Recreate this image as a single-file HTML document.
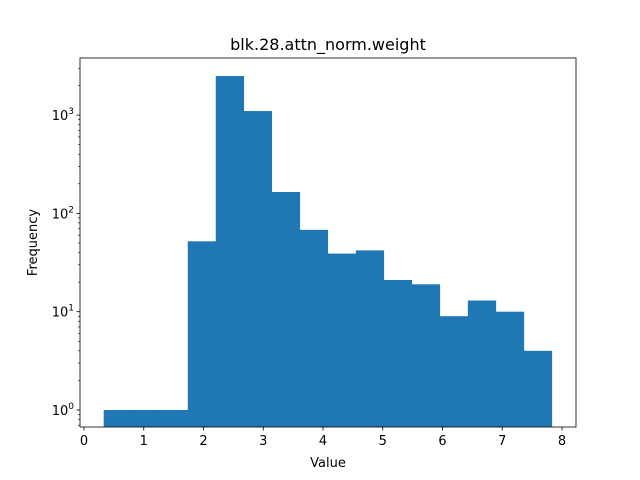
<!DOCTYPE html>
<html><head><meta charset="utf-8"><style>body{margin:0;background:#fff}svg{display:block;font-family:"DejaVu Sans","Liberation Sans",sans-serif}</style></head>
<body>
<svg id="chart" width="640" height="480"></svg>
<script>
const binStart = 0.33;
const binWidth = 0.46875;
const counts = [1,1,1,52,2500,1100,165,68,39,42,21,19,9,13,10,4];
const xTicks = [0,1,2,3,4,5,6,7,8];
const yTickExps = [0,1,2,3];
const titleText = "blk.28.attn_norm.weight";

const L=80,R=576,T=58,B=427;
const x = v => 84 + v*59.75;
const y = v => 410 - Math.log10(v)*98.3;
const svg=document.getElementById('chart');
const NS='http://www.w3.org/2000/svg';
function mk(tag,attrs,parent){const e=document.createElementNS(NS,tag);for(const k in attrs)e.setAttribute(k,attrs[k]);(parent||svg).appendChild(e);return e;}

counts.forEach((c,i)=>{
  const x0=x(binStart+i*binWidth), x1=x(binStart+(i+1)*binWidth);
  const r=mk('rect',{x:x0,y:y(c),width:x1-x0+0.3,height:B-y(c),fill:'#1f77b4'});
  
  
});
const frame=mk('rect',{x:L,y:T,width:R-L,height:B-T,fill:'none',stroke:'#000','stroke-width':0.8});



xTicks.forEach(t=>{
  mk('line',{x1:x(t),x2:x(t),y1:B,y2:B+3.5,stroke:'#000','stroke-width':0.8});
  const tx=mk('text',{x:x(t),y:B+18,'font-size':13,'text-anchor':'middle'});
  tx.textContent=t;
  
  
});
yTickExps.forEach(e=>{
  const yy=y(Math.pow(10,e));
  mk('line',{x1:L-3.5,x2:L,y1:yy,y2:yy,stroke:'#000','stroke-width':0.8});
  const tx=mk('text',{x:L-6,y:yy+5,'font-size':13,'text-anchor':'end'});
  tx.innerHTML='10<tspan dy="-6" font-size="9">'+e+'</tspan>';
  
  
});
for(let e=-1;e<=3;e++)for(let m=2;m<=9;m++){
  const v=m*Math.pow(10,e), yy=y(v);
  if(yy<T||yy>B)continue;
  mk('line',{x1:L-2,x2:L,y1:yy,y2:yy,stroke:'#000','stroke-width':0.6});
}
const title=mk('text',{x:(L+R)/2,y:50,'font-size':16,'text-anchor':'middle'});
title.textContent=titleText;


const xl=mk('text',{x:(L+R)/2,y:467,'font-size':13,'text-anchor':'middle'});
xl.textContent='Value';


const yl=mk('text',{x:37,y:(T+B)/2,'font-size':13,'text-anchor':'middle',transform:'rotate(-90 37 '+((T+B)/2)+')'});
yl.textContent='Frequency';


</script>
</body></html>
